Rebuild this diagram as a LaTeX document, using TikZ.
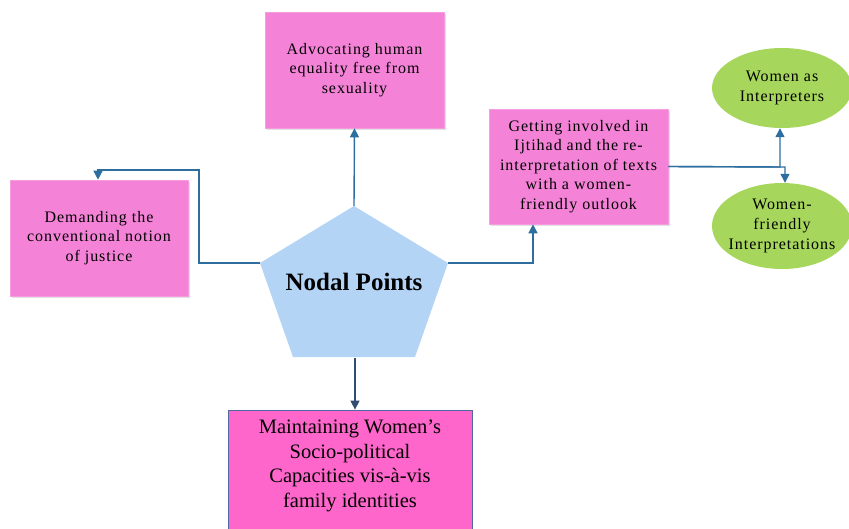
\documentclass[tikz,border=0pt]{standalone}
\usepackage{fontspec}
\setmainfont{Liberation Serif}
\newfontfamily\spacedserif[LetterSpace=6]{Liberation Serif}
\usetikzlibrary{arrows.meta,shadows,shapes.geometric}
\definecolor{boxpink}{RGB}{244,131,216}
\definecolor{hotpink}{RGB}{255,102,204}
\definecolor{pentblue}{RGB}{180,212,246}
\definecolor{leafgreen}{RGB}{166,214,92}
\definecolor{linkblue}{RGB}{46,110,158}
\definecolor{darklink}{RGB}{50,75,110}
\definecolor{boxedge}{RGB}{79,105,160}
\begin{document}
\begin{tikzpicture}[x=1pt,y=-1pt,
  pinkbox/.style={rectangle,fill=boxpink,draw=boxpink!80!white,line width=0.6pt,
    inner sep=0pt,align=center,font=\spacedserif\fontsize{16}{19.6}\selectfont,
    drop shadow={shadow xshift=1.5pt,shadow yshift=-1.5pt,opacity=0.25}},
  leaf/.style={ellipse,fill=leafgreen,draw=none,inner xsep=-12pt,inner ysep=-6pt,align=center,
    font=\spacedserif\fontsize{16}{20}\selectfont},
  link/.style={draw=linkblue,line width=1.4pt,-{Triangle[length=9pt,width=9pt]}},
  plain/.style={draw=linkblue,line width=1.4pt}]
\useasboundingbox (0,0) rectangle (849,528);
% boxes
\node[pinkbox,minimum width=178pt,minimum height=116pt] (just) at (99,238)
  {Demanding the\\conventional notion\\of justice};
\node[pinkbox,minimum width=179pt,minimum height=116pt] (equal) at (354.5,70)
  {Advocating human\\equality free from\\sexuality};
\node[pinkbox,minimum width=179pt,minimum height=115pt] (ijt) at (578.5,166.5)
  {Getting involved in\\Ijtihad and the re-\\interpretation of texts\\with a women-\\friendly outlook};
\node[rectangle,fill=hotpink,draw=boxedge,line width=0.8pt,minimum width=244pt,
  minimum height=122pt,inner sep=0pt] (socio) at (350,471) {};
\node[align=center,inner sep=0pt,font=\fontsize{20.5}{24.7}\selectfont] (sociotext) at (350,466)
  {Maintaining Women’s\\Socio-political\\Capacities vis-à-vis\\family identities};
\node[leaf,minimum width=140pt,minimum height=80pt] (interp) at (782,88)
  {Women as\\Interpreters};
\node[leaf,minimum width=140pt,minimum height=86pt] (friendly) at (782,226)
  {Women-\\friendly\\Interpretations};
% pentagon
\coordinate (ptop) at (354,206);
\coordinate (pright) at (448,263);
\coordinate (pbr) at (415,357);
\coordinate (pbl) at (293,357);
\coordinate (pleft) at (260,263);
\coordinate (pbot) at (355,358);
\fill[pentblue] (ptop) -- (pright) -- (pbr) -- (pbl) -- (pleft) -- cycle;
\node[font=\fontsize{25}{30}\selectfont\bfseries] (nodal) at (354,282) {Nodal Points};
% connectors
\draw[link] (ptop) -- (equal.south);
\draw[link] (pleft) -- (199,263) -- (199,170) -- (98,170) -- (just.north -| 98,0);
\draw[link] (pright) -- (533,263) -- (ijt.south -| 533,0);
\draw[draw=darklink,line width=1.4pt,-{Triangle[length=9pt,width=9pt]}] (pbot) -- (socio.north -| 355,0);
\draw[link] (ijt.east) -- (780,167) -- (interp.south -| 780,0);
\draw[link] (ijt.east) -- (785,167) -- (friendly.north -| 785,0);
\end{tikzpicture}
\end{document}
